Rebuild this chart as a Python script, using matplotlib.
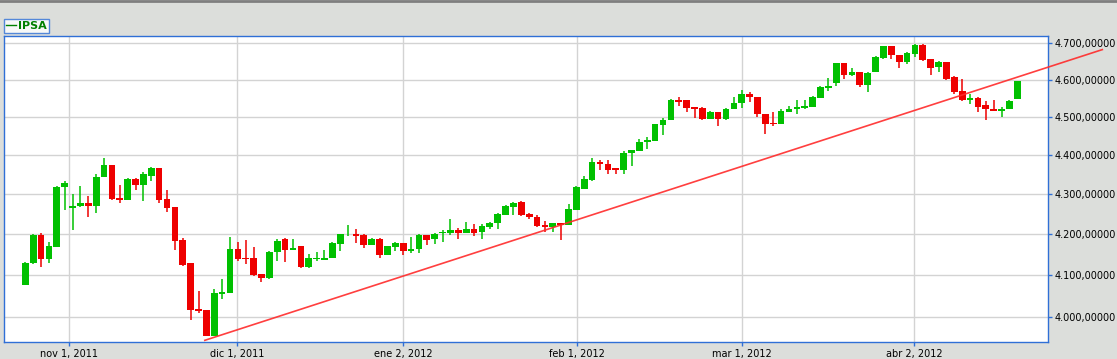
import matplotlib
matplotlib.use("Agg")
import matplotlib.pyplot as plt
from matplotlib.lines import Line2D
from matplotlib.ticker import FixedLocator, FuncFormatter, NullLocator
import numpy as np

# velas diarias del IPSA (orden cronologico, dias habiles)
opens = [4075, 4128, 4197, 4138, 4168, 4317, 4264, 4269, 4278, 4269,
         4343, 4373, 4291, 4286, 4339, 4324, 4347, 4367, 4288, 4266,
         4184, 4128, 4017, 4015, 3954, 4053, 4056, 4162, 4141, 4140,
         4103, 4092, 4155, 4188, 4160, 4171, 4118, 4139, 4137, 4140,
         4176, 4199, 4200, 4198, 4173, 4188, 4149, 4168, 4178, 4157,
         4162, 4198, 4188, 4203, 4202, 4210, 4202, 4212, 4205, 4217,
         4227, 4248, 4268, 4280, 4249, 4243, 4221, 4217, 4227, 4222,
         4259, 4314, 4337, 4383, 4378, 4366, 4361, 4405, 4410, 4434,
         4437, 4478, 4491, 4546, 4544, 4527, 4525, 4494, 4514, 4494,
         4520, 4536, 4562, 4554, 4509, 4485, 4480, 4514, 4520, 4525,
         4527, 4551, 4577, 4590, 4645, 4612, 4620, 4585, 4620, 4659,
         4693, 4667, 4648, 4670, 4695, 4656, 4634, 4648, 4606, 4570,
         4546, 4551, 4533, 4522, 4517, 4520, 4549]
highs = [4132, 4200, 4203, 4181, 4320, 4334, 4301, 4321, 4296, 4350,
         4393, 4373, 4324, 4340, 4340, 4355, 4370, 4367, 4311, 4266,
         4191, 4128, 4060, 4015, 4067, 4091, 4193, 4179, 4186, 4167,
         4103, 4157, 4188, 4190, 4188, 4171, 4150, 4155, 4161, 4181,
         4200, 4222, 4212, 4200, 4190, 4190, 4171, 4181, 4178, 4193,
         4200, 4198, 4202, 4210, 4237, 4215, 4230, 4225, 4225, 4230,
         4253, 4272, 4280, 4283, 4252, 4246, 4231, 4228, 4228, 4276,
         4320, 4347, 4393, 4388, 4386, 4366, 4411, 4414, 4443, 4446,
         4482, 4496, 4549, 4554, 4544, 4527, 4527, 4517, 4514, 4525,
         4552, 4573, 4568, 4554, 4509, 4512, 4522, 4530, 4546, 4546,
         4556, 4584, 4604, 4646, 4646, 4631, 4620, 4620, 4664, 4693,
         4693, 4667, 4676, 4698, 4698, 4656, 4651, 4648, 4611, 4601,
         4562, 4554, 4543, 4546, 4527, 4546, 4596]
lows = [4075, 4127, 4119, 4128, 4168, 4259, 4209, 4268, 4242, 4252,
        4343, 4286, 4277, 4286, 4309, 4283, 4332, 4278, 4254, 4160,
        4121, 3992, 4009, 3954, 3954, 4043, 4056, 4133, 4126, 4097,
        4083, 4090, 4133, 4130, 4160, 4116, 4116, 4134, 4137, 4140,
        4157, 4195, 4178, 4166, 4173, 4140, 4149, 4157, 4147, 4152,
        4152, 4173, 4176, 4181, 4198, 4188, 4202, 4195, 4188, 4212,
        4212, 4248, 4248, 4244, 4237, 4217, 4204, 4204, 4185, 4222,
        4259, 4312, 4332, 4361, 4352, 4350, 4350, 4371, 4410, 4417,
        4437, 4452, 4491, 4530, 4512, 4496, 4491, 4494, 4475, 4491,
        4520, 4525, 4541, 4499, 4454, 4475, 4480, 4514, 4509, 4520,
        4527, 4551, 4570, 4582, 4601, 4609, 4580, 4567, 4620, 4656,
        4656, 4631, 4642, 4662, 4651, 4614, 4620, 4598, 4562, 4543,
        4535, 4514, 4493, 4517, 4501, 4520, 4549]
closes = [4128, 4197, 4138, 4169, 4319, 4329, 4271, 4278, 4269, 4344,
          4373, 4288, 4286, 4339, 4324, 4350, 4367, 4286, 4264, 4182,
          4124, 4016, 4013, 3954, 4056, 4058, 4162, 4138, 4138, 4099,
          4092, 4156, 4183, 4160, 4166, 4118, 4140, 4141, 4142, 4178,
          4200, 4201, 4195, 4173, 4188, 4149, 4171, 4178, 4157, 4164,
          4198, 4185, 4200, 4205, 4210, 4202, 4212, 4202, 4220, 4227,
          4250, 4270, 4277, 4247, 4242, 4219, 4217, 4226, 4222, 4261,
          4317, 4339, 4383, 4376, 4362, 4361, 4406, 4412, 4435, 4438,
          4480, 4493, 4546, 4541, 4525, 4520, 4494, 4514, 4494, 4522,
          4538, 4562, 4552, 4507, 4482, 4480, 4517, 4522, 4527, 4530,
          4554, 4579, 4584, 4645, 4612, 4620, 4585, 4618, 4662, 4693,
          4667, 4648, 4673, 4695, 4653, 4631, 4648, 4603, 4567, 4546,
          4551, 4527, 4520, 4517, 4522, 4543, 4596]

month_labels = ["nov 1, 2011", "dic 1, 2011", "ene 2, 2012",
                "feb 1, 2012", "mar 1, 2012", "abr 2, 2012"]
month_pos = [5.59, 26.93, 48.01, 70.07, 91.03, 112.88]

y_ticks = [4000, 4100, 4200, 4300, 4400, 4500, 4600, 4700]

# linea de tendencia (dos puntos)
trend_x = [22.7, 136.9]
trend_y = [3944, 4683]

GREEN = "#00c000"
RED = "#ee0000"
BLUE = "#2f6fd6"
BG = "#dcdedb"

o = np.array(opens, float)
h = np.array(highs, float)
l = np.array(lows, float)
c = np.array(closes, float)
x = np.arange(len(o))
up = c >= o
colors = np.where(up, GREEN, RED)

fig = plt.figure(figsize=(11.17, 3.59), dpi=100, facecolor=BG)
W, H = 1117, 359
ax = fig.add_axes([4.3 / W, 1 - 342.3 / H, (1048 - 4.3) / W, (342.3 - 36) / H])
ax.set_facecolor("white")
ax.set_yscale("log")

ax.vlines(x, l, h, colors=colors, linewidth=1.1, zorder=3)
bottom = np.minimum(o, c)
height = np.maximum(np.abs(c - o), 1.5)
ax.bar(x, height, bottom=bottom, width=0.85, color=colors, linewidth=0, zorder=4)

ax.plot(trend_x, trend_y, color="#ff2a2a", linewidth=1.2, alpha=0.9,
        clip_on=False, zorder=5, solid_capstyle="butt")

ax.set_xlim(-2.667, 129.9)
ax.set_ylim(3940, 4720)

ax.yaxis.set_major_locator(FixedLocator(y_ticks))
ax.yaxis.set_minor_locator(NullLocator())
ax.yaxis.set_major_formatter(FuncFormatter(
    lambda v, p: f"{int(round(v)):,}".replace(",", ".") + ",00000"))
ax.yaxis.tick_right()
ax.set_xticks(month_pos)
ax.set_xticklabels(month_labels)

ax.tick_params(axis="both", length=3, width=1, color=BLUE, labelsize=7,
               labelcolor="black", pad=2)
ax.grid(True, color="#d3d3d3", linewidth=1)
ax.set_axisbelow(True)
for s in ax.spines.values():
    s.set_color(BLUE)
    s.set_linewidth(1)

handle = Line2D([], [], color="#008000", linewidth=1)
leg = fig.legend([handle], ["IPSA"], loc="upper left",
                 bbox_to_anchor=(4 / W, 1 - 19 / H), fancybox=False,
                 frameon=True, handlelength=0.9, handletextpad=0.15,
                 borderpad=0.2, borderaxespad=0, fontsize=8)
leg.get_frame().set_edgecolor(BLUE)
leg.get_frame().set_linewidth(1)
for t in leg.get_texts():
    t.set_color("#008000")
    t.set_fontweight("bold")

fig.add_artist(Line2D([0, 1], [1 - 1 / H, 1 - 1 / H], color="#7f7f7f",
                      linewidth=2, transform=fig.transFigure))

fig.savefig("out.png", dpi=100, facecolor=BG)
